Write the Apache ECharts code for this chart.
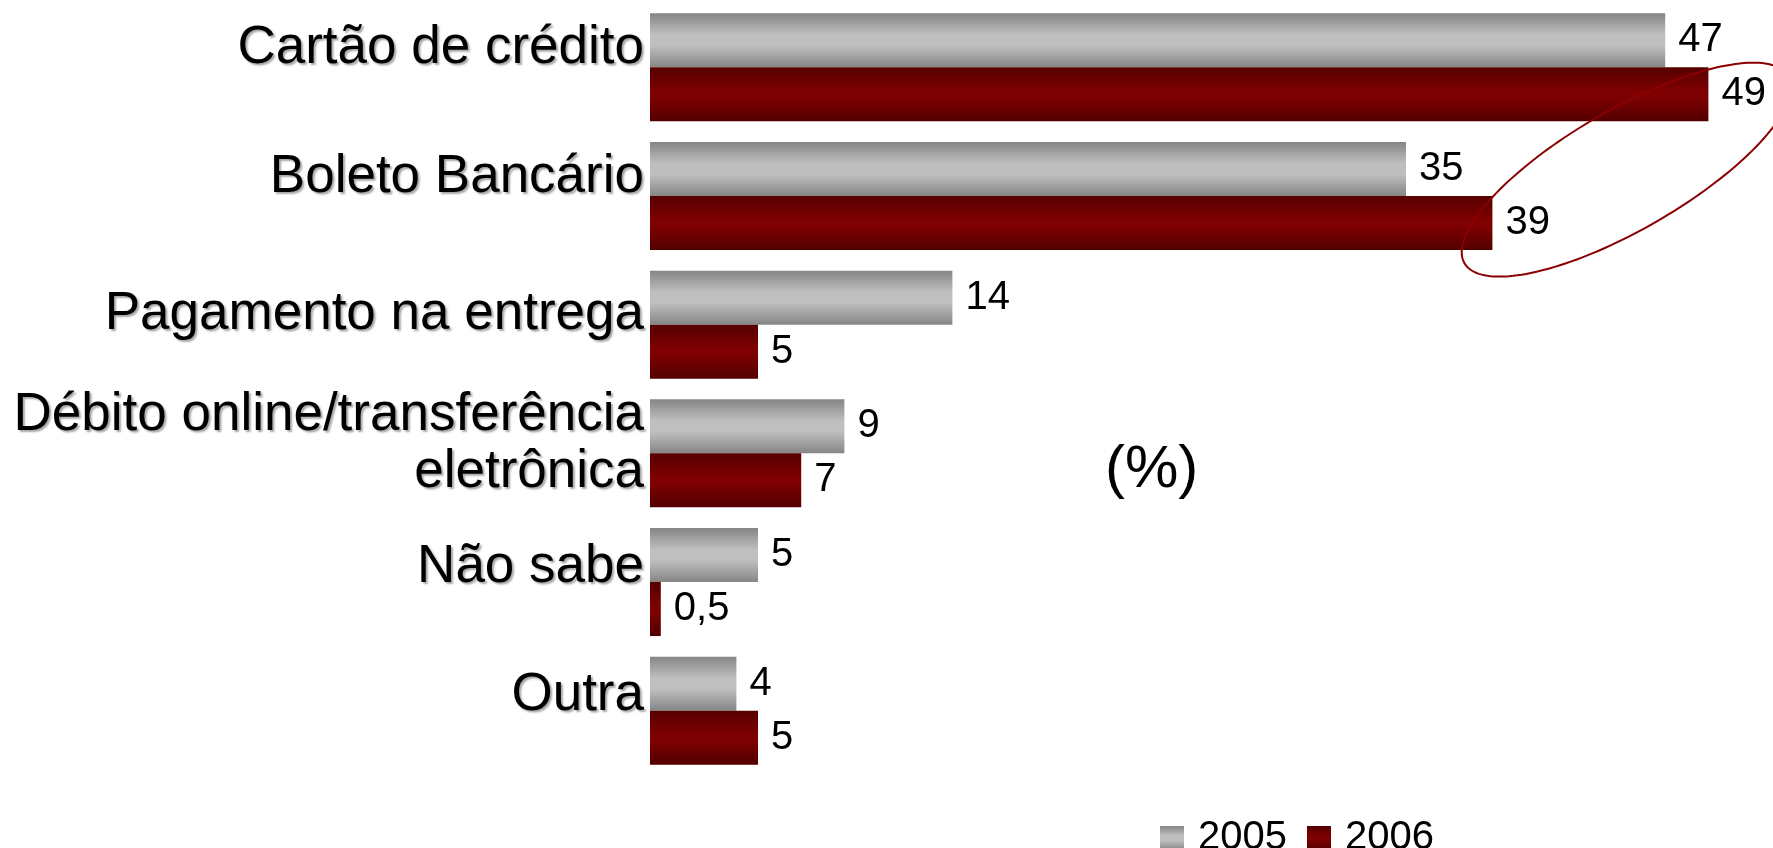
<!DOCTYPE html>
<html>
<head>
<meta charset="utf-8">
<script src="https://cdn.jsdelivr.net/npm/echarts@6/dist/echarts.min.js"></script>
<style>
html,body{margin:0;padding:0;background:#fff;}
#chart{width:1773px;height:848px;}
</style>
</head>
<body>
<div id="chart"></div>
<script>
// ---- data ----
var categories = ['Cartão de crédito', 'Boleto Bancário', 'Pagamento na entrega', 'Débito online/transferência\neletrônica', 'Não sabe', 'Outra'];
var seriesNames = ['2005', '2006'];
var values2005 = [47, 35, 14, 9, 5, 4];
var values2006 = [49, 39, 5, 7, 0.5, 5];
var unitLabel = '(%)';
var highlighted = [{cat: 'Cartão de crédito', value: 49}, {cat: 'Boleto Bancário', value: 39}];

// ---- styles ----
var labelRaise = [19, 19, 10, 9, 15, 15]; // upward nudge of each category label (px)
var FONT = "'Liberation Sans', Arial, Helvetica, sans-serif";

var grayGrad = new echarts.graphic.LinearGradient(0, 0, 0, 1, [
  {offset: 0, color: '#858585'},
  {offset: 0.4, color: '#bfbfbf'},
  {offset: 0.6, color: '#bfbfbf'},
  {offset: 1, color: '#858585'}
]);
var redGrad = new echarts.graphic.LinearGradient(0, 0, 0, 1, [
  {offset: 0, color: '#560000'},
  {offset: 0.45, color: '#7f0000'},
  {offset: 0.55, color: '#7f0000'},
  {offset: 1, color: '#520000'}
]);

function fmt(p) { return String(p.value).replace('.', ','); }

// rich spacer styles: an invisible trailing line lifts the label
var rich = {};
labelRaise.forEach(function (r) {
  rich['sp' + r] = {fontSize: 1, lineHeight: 2 * r, textShadowColor: 'transparent'};
});

var chart = echarts.init(document.getElementById('chart'), null, {renderer: 'canvas'});
var option = {
  animation: false,
  backgroundColor: '#ffffff',
  grid: {left: 650, top: 3, width: 1080, height: 772, containLabel: false},
  xAxis: {type: 'value', min: 0, max: 50, show: false},
  yAxis: {
    type: 'category',
    inverse: true,
    data: categories,
    axisLine: {show: false},
    axisTick: {show: false},
    splitLine: {show: false},
    axisLabel: {
      margin: 6,
      fontFamily: FONT,
      fontSize: 53,
      lineHeight: 57,
      color: '#000',
      align: 'right',
      textShadowColor: 'rgba(0,0,0,0.35)',
      textShadowOffsetX: 2,
      textShadowOffsetY: 2,
      textShadowBlur: 2,
      rich: rich,
      formatter: function (value, index) {
        return value + '\n{sp' + labelRaise[index] + '| }';
      }
    }
  },
  legend: {
    data: seriesNames,
    left: 1155,
    top: 811,
    itemWidth: 24,
    itemHeight: 24,
    itemGap: 20,
    icon: 'rect',
    selectedMode: false,
    textStyle: {fontFamily: FONT, fontSize: 40, color: '#000', lineHeight: 40, padding: [4, 0, 0, 9]}
  },
  series: [
    {
      name: seriesNames[0], type: 'bar', data: values2005,
      barGap: '0%', barCategoryGap: '16%',
      itemStyle: {color: grayGrad},
      label: {show: true, position: 'right', distance: 13, fontFamily: FONT, fontSize: 40, color: '#000', formatter: fmt}
    },
    {
      name: seriesNames[1], type: 'bar', data: values2006,
      barGap: '0%', barCategoryGap: '16%',
      itemStyle: {color: redGrad},
      label: {show: true, position: 'right', distance: 13, fontFamily: FONT, fontSize: 40, color: '#000', formatter: fmt}
    }
  ]
};
chart.setOption(option);

// annotation ellipse around highlighted values, derived from data positions
var pA = chart.convertToPixel({gridIndex: 0}, [highlighted[0].value, highlighted[0].cat]);
var pB = chart.convertToPixel({gridIndex: 0}, [highlighted[1].value, highlighted[1].cat]);
var cx = (pA[0] + pB[0]) / 2 + 26;
var cy = (pA[1] + pB[1]) / 2 + 38;
var ra = 187, rb = 60, th = 30 * Math.PI / 180;
var pts = [];
for (var i = 0; i <= 180; i++) {
  var t = i / 180 * Math.PI * 2;
  var ex = ra * Math.cos(t), ey = rb * Math.sin(t);
  pts.push([cx + ex * Math.cos(th) - ey * Math.sin(th), cy - (ex * Math.sin(th) + ey * Math.cos(th))]);
}
chart.setOption({
  graphic: [
    {
      type: 'polygon', silent: true, z: 100,
      shape: {points: pts},
      style: {fill: 'transparent', stroke: '#8b0000', lineWidth: 2}
    },
    {
      type: 'text', left: 1105, top: 440, silent: true,
      style: {text: unitLabel, font: '60px ' + FONT, fill: '#000'}
    }
  ]
});
</script>
</body>
</html>
